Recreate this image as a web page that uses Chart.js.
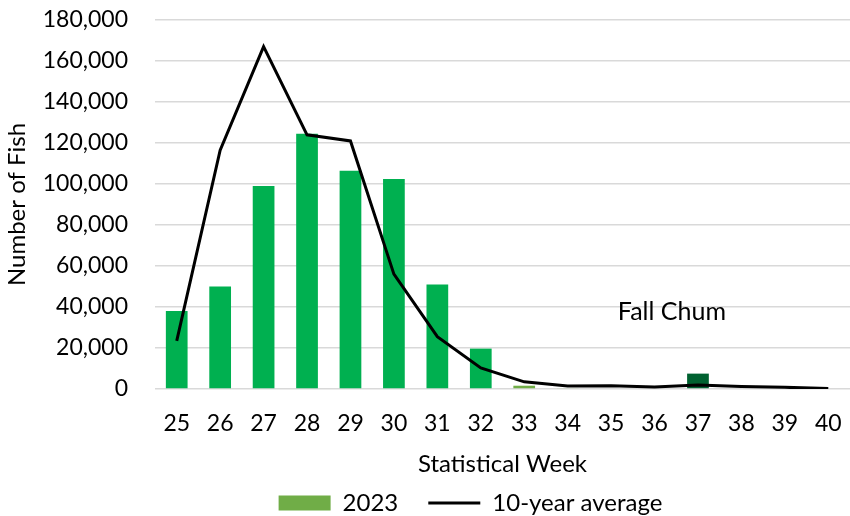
<!DOCTYPE html>
<html>
<head>
<meta charset="utf-8">
<script src="https://cdn.jsdelivr.net/npm/chart.js@4/dist/chart.umd.min.js"></script>
<style>
  html, body { margin: 0; padding: 0; background: #fff; }
  #wrap { width: 850px; height: 516px; }
</style>
</head>
<body>
<div id="wrap"><canvas id="fishChart"></canvas></div>
<script>
// Chart data
const weeks = ['25', '26', '27', '28', '29', '30', '31', '32', '33', '34', '35', '36', '37', '38', '39', '40'];
const count2023 = [38000, 50000, 99000, 124500, 106500, 102500, 51000, 19700, 1600, 400, 0, 0, 7500, 0, 0, 0];
const tenYearAvg = [23500, 116500, 167000, 124000, 121000, 56000, 25500, 10300, 3500, 1500, 1600, 1000, 2000, 1200, 800, 200];
const yTicks = [0, 20000, 40000, 60000, 80000, 100000, 120000, 140000, 160000, 180000];

// Bar colours: weeks 33-34 lighter, week 37 dark
const barColors = weeks.map(w => {
    if (w === '33' || w === '34') return '#70AD47';
    if (w === '37') return '#006130';
    return '#00B050';
});

const FONT = "Lato, 'Open Sans', sans-serif";

// Draw the "Fall Chum" note
const notePlugin = {
    id: 'note',
    afterLayout(chart) {
        // legend sits a bit right of centre in the original
        chart.legend.left += 44;
        chart.legend.right += 44;
    },
    afterDatasetsDraw(chart) {
        const ctx = chart.ctx;
        const x = chart.scales.x;
        const y = chart.scales.y;
        const px = x.getPixelForValue(11) + 0.4 * (x.getPixelForValue(12) - x.getPixelForValue(11));
        const py = y.getPixelForValue(37500);
        ctx.save();
        ctx.font = "25px " + FONT;
        ctx.fillStyle = '#000';
        ctx.textAlign = 'center';
        ctx.textBaseline = 'middle';
        ctx.fillText('Fall Chum', px, py);
        ctx.restore();
    }
};

document.addEventListener('DOMContentLoaded', function() {
    const ctx = document.getElementById('fishChart').getContext('2d');
    new Chart(ctx, {
        data: {
            labels: weeks,
            datasets: [{
                type: 'line',
                label: '10-year average',
                data: tenYearAvg,
                borderColor: '#000',
                backgroundColor: '#000',
                borderWidth: 3,
                pointRadius: 0,
                tension: 0,
                pointStyle: 'line',
                order: 0
            }, {
                type: 'bar',
                label: '2023',
                data: count2023,
                backgroundColor: barColors,
                categoryPercentage: 0.5,
                barPercentage: 1,
                pointStyle: 'rect',
                order: 1
            }]
        },
        options: {
            responsive: true,
            maintainAspectRatio: false,
            animation: false,
            layout: { padding: { top: 20, right: -3, left: 0, bottom: -9 } },
            plugins: {
                legend: {
                    position: 'bottom',
                    reverse: true,
                    labels: {
                        usePointStyle: true,
                        pointStyleWidth: 52,
                        boxHeight: 15,
                        color: '#000',
                        padding: 30,
                        font: { family: FONT, size: 24 },
                        generateLabels(chart) {
                            const items = Chart.defaults.plugins.legend.labels.generateLabels(chart);
                            items.forEach(it => {
                                if (it.text === '2023') { it.fillStyle = '#70AD47'; it.strokeStyle = '#70AD47'; it.lineWidth = 0; }
                            });
                            return items;
                        }
                    }
                },
                tooltip: { enabled: false }
            },
            scales: {
                x: {
                    afterFit(scale) { scale.height = 72; scale.paddingLeft = 0; scale.paddingRight = 0; },
                    grid: { display: false, drawTicks: false },
                    border: { display: false },
                    ticks: { color: '#000', font: { family: FONT, size: 23 }, padding: 21, maxRotation: 0 },
                    title: { display: true, text: 'Statistical Week', color: '#000', font: { family: FONT, size: 24 }, padding: { top: 0, bottom: -18 } }
                },
                y: {
                    min: 0,
                    max: 180000,
                    afterBuildTicks(scale) { scale.ticks = yTicks.map(v => ({ value: v })); },
                    afterFit(scale) { scale.width = 155; scale.paddingTop = 10; scale.paddingBottom = 10; },
                    grid: { color: '#D9D9D9', lineWidth: 1.5, drawTicks: false },
                    border: { display: false },
                    ticks: {
                        color: '#000',
                        font: { family: FONT, size: 23 },
                        padding: 27,
                        callback: v => v.toLocaleString('en-US')
                    },
                    title: { display: true, text: 'Number of Fish', color: '#000', font: { family: FONT, size: 24 }, padding: { top: 3, bottom: 0 } }
                }
            }
        },
        plugins: [notePlugin]
    });
});
</script>
</body>
</html>
